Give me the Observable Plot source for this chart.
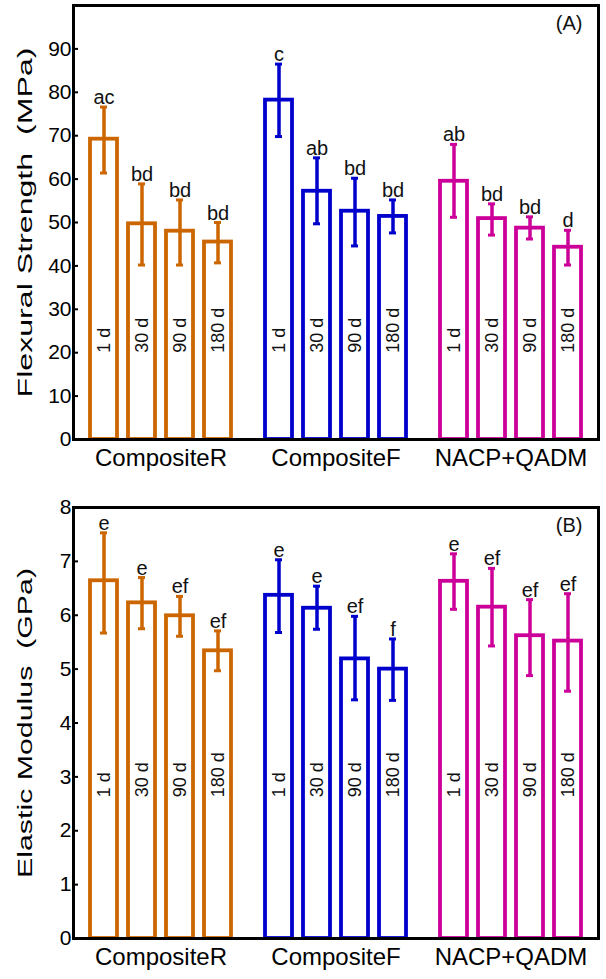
<!DOCTYPE html>
<html><head><meta charset="utf-8">
<script src="https://cdn.jsdelivr.net/npm/d3@7"></script>
<script src="https://cdn.jsdelivr.net/npm/@observablehq/plot@0.6"></script>
<style>
html,body{margin:0;padding:0;background:#fff;}
#chart svg{display:block;}
</style></head><body><div id="chart"></div>
<script>
const groups = ["CompositeR", "CompositeF", "NACP+QADM"];
const days = ["1 d", "30 d", "90 d", "180 d"];
const groupColors = ["#cc6600", "#0000cc", "#cc0099"];

// Panel A: flexural strength (MPa), 12 bars = 3 groups x 4 days
const flexMean = [69.2, 49.7, 48.0, 45.5, 78.2, 57.2, 52.6, 51.4, 59.5, 50.9, 48.7, 44.3];
const flexLow = [61.4, 40.2, 40.2, 40.7, 69.8, 49.7, 44.6, 47.6, 51.2, 47.1, 46.2, 40.2];
const flexHigh = [76.6, 58.9, 55.2, 50.0, 86.5, 64.9, 60.2, 55.2, 68.0, 54.3, 51.3, 48.2];
const flexLetters = ["ac", "bd", "bd", "bd", "c", "ab", "bd", "bd", "ab", "bd", "bd", "d"];
const flexTicks = [0, 10, 20, 30, 40, 50, 60, 70, 80, 90];

// Panel B: elastic modulus (GPa)
const modMean = [6.64, 6.23, 5.99, 5.34, 6.37, 6.13, 5.19, 5.00, 6.63, 6.15, 5.62, 5.52];
const modLow = [5.67, 5.75, 5.61, 4.97, 5.68, 5.74, 4.43, 4.42, 6.11, 5.43, 4.88, 4.59];
const modHigh = [7.53, 6.70, 6.35, 5.71, 7.03, 6.54, 5.98, 5.56, 7.14, 6.87, 6.29, 6.40];
const modLetters = ["e", "e", "ef", "ef", "e", "e", "ef", "f", "e", "ef", "ef", "ef"];
const modTicks = [0, 1, 2, 3, 4, 5, 6, 7, 8];

function rowsOf(mean, low, high, letters) {
  return mean.map((m, i) => ({
    group: groups[Math.floor(i / days.length)],
    day: days[i % days.length],
    mean: m, low: low[i], high: high[i], letter: letters[i]
  }));
}

function panel(rows, o) {
  const common = {fx: "group", x: "day"};
  const chart = Plot.plot({
    width: 606, height: o.height,
    marginLeft: 64, marginRight: 5, marginTop: o.marginTop, marginBottom: o.marginBottom,
    style: {fontFamily: "'Liberation Sans', Arial, sans-serif", background: "white", color: "black"},
    fx: {domain: groups, paddingInner: 0, paddingOuter: 0.03, align: 0.79, label: null},
    x: {domain: days, axis: null, paddingInner: 0.3, paddingOuter: 0.43},
    y: {domain: o.yDomain, label: null},
    color: {domain: groups, range: groupColors},
    marks: [
      Plot.barY(rows, {...common, y: "mean", fill: "white", stroke: "group", strokeWidth: 3.8}),
      Plot.ruleX(rows, {...common, y1: "low", y2: "high", stroke: "group", strokeWidth: 3.5}),
      Plot.tickY(rows, {...common, y: "low", stroke: "group", strokeWidth: 3, insetLeft: 10, insetRight: 10}),
      Plot.tickY(rows, {...common, y: "high", stroke: "group", strokeWidth: 3, insetLeft: 10, insetRight: 10}),
      Plot.text(rows, {...common, y: "high", text: "letter", lineAnchor: "bottom", dy: -3, fontSize: 20, fill: "#111"}),
      Plot.text(rows, {...common, y: () => o.dayY, text: "day", rotate: -90, textAnchor: "start", fontSize: 18, fill: "#111"}),
      Plot.axisY({ticks: o.ticks, tickSize: -5, tickPadding: 7, strokeWidth: 2, fontSize: 21,
        label: o.yLabel, labelAnchor: "center", labelOffset: 56, labelArrow: "none"}),
      Plot.axisFx({anchor: "bottom", tickSize: 0, tickPadding: 9, fontSize: 24, label: null}),
      Plot.text([o.tag], {fx: () => groups[2], text: d => d, frameAnchor: "top-right", dx: -16, dy: 10, fontSize: 20, fill: "#111"}),
      Plot.frame({facet: "super", stroke: "black", strokeWidth: 3})
    ]
  });
  const lab = d3.select(chart).select('g[aria-label="y-axis label"] text');
  lab.style("font-size", "20px").attr("textLength", o.labelLength).attr("lengthAdjust", "spacingAndGlyphs");
  return chart;
}

const root = document.getElementById("chart");
root.append(panel(rowsOf(flexMean, flexLow, flexHigh, flexLetters), {
  height: 480, marginTop: 5, marginBottom: 41, yDomain: [0, 100], ticks: flexTicks,
  yLabel: "Flexural Strength\u00a0 (MPa)", dayY: 20, tag: "(A)", labelLength: 350
}));
root.append(panel(rowsOf(modMean, modLow, modHigh, modLetters), {
  height: 499, marginTop: 27, marginBottom: 41, yDomain: [0, 8], ticks: modTicks,
  yLabel: "Elastic Modulus\u00a0 (GPa)", dayY: 2.62, tag: "(B)", labelLength: 310
}));
</script></body></html>
